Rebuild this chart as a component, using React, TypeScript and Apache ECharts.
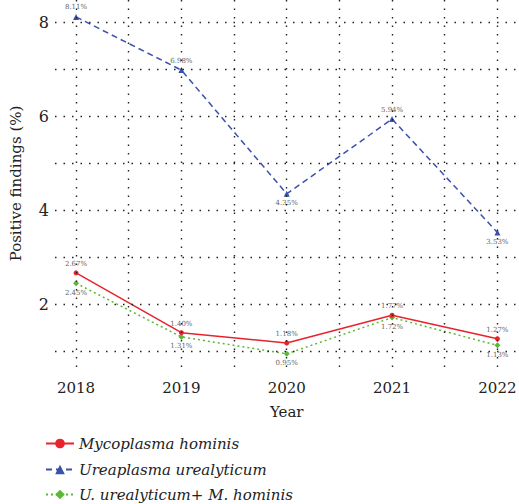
import React, { useEffect, useRef } from "react";
import * as echarts from "echarts";

const years = [2018, 2019, 2020, 2021, 2022];
const mHominis = [2.67, 1.4, 1.18, 1.77, 1.27];
const uUrealyticum = [8.11, 6.98, 4.35, 5.94, 3.53];
const combined = [2.45, 1.31, 0.95, 1.72, 1.13];
const yTickLabels = [2, 4, 6, 8];
const yGrid = [1, 2, 3, 4, 5, 6, 7, 8];
const xGrid = [2018, 2018.5, 2019, 2019.5, 2020, 2020.5, 2021, 2021.5, 2022];
const seriesNames = ["Mycoplasma hominis", "Ureaplasma urealyticum", "U. urealyticum+ M. hominis"];
const bluePos = ["top", "top", "bottom", "top", "bottom"];

const FONT = "DejaVu Serif";

export default function App() {
  const ref = useRef<HTMLDivElement>(null);
  useEffect(() => {
    if (!ref.current) return;
    const chart = echarts.init(ref.current, null, { renderer: "svg" });
    const lbl = (pos: string) => ({
      show: true,
      position: pos,
      distance: 3,
      fontSize: 7,
      color: "#666",
      fontFamily: FONT,
      formatter: (p: any) => p.value[1].toFixed(2) + "%",
    });
    const legendTops = [431, 457, 482];
    chart.setOption({
      animation: false,
      backgroundColor: "#fff",
      textStyle: { fontFamily: FONT },
      grid: { left: 44, right: 0, top: 0, height: 367, containLabel: false },
      xAxis: {
        type: "value",
        min: 2017.8,
        max: 2022.2,
        name: "Year",
        nameLocation: "middle",
        nameGap: 37,
        nameTextStyle: { fontSize: 15, color: "#222", fontFamily: FONT },
        axisLine: { show: false },
        axisTick: { show: false },
        splitLine: { show: false },
        axisLabel: {
          customValues: years,
          formatter: (v: number) => String(v),
          fontSize: 15,
          color: "#222",
          fontFamily: FONT,
          margin: 13,
        },
      },
      yAxis: {
        type: "value",
        min: 0.67,
        max: 8.47,
        name: "Positive findings (%)",
        nameLocation: "middle",
        nameRotate: 90,
        nameGap: 32,
        nameTextStyle: { fontSize: 15, color: "#222", fontFamily: FONT },
        axisLine: { show: false },
        axisTick: { show: false },
        splitLine: { show: false },
        axisLabel: {
          customValues: yTickLabels,
          fontSize: 16,
          color: "#222",
          fontFamily: FONT,
          margin: 6,
        },
      },
      legend: seriesNames.map((n, i) => ({
        orient: "vertical",
        left: 40,
        top: legendTops[i],
        itemWidth: 28,
        itemHeight: 12,
        data: [n],
        textStyle: { fontSize: 15, fontStyle: "italic", color: "#222", fontFamily: FONT },
      })),
      series: [
        {
          type: "line",
          name: "grid",
          data: [],
          silent: true,
          markLine: {
            silent: true,
            symbol: ["none", "none"],
            label: { show: false },
            lineStyle: { type: [1.5, 7], color: "#222", width: 1.4 },
            data: [
              ...yGrid.map((v) => ({ yAxis: v })),
              ...xGrid.map((v) => ({ xAxis: v })),
            ],
          },
        },
        {
          type: "line",
          name: seriesNames[0],
          data: years.map((y, i) => [y, mHominis[i]]),
          symbol: "circle",
          symbolSize: 5,
          color: "#e8232b",
          lineStyle: { width: 1.5, type: "solid" },
          label: lbl("top"),
          z: 4,
        },
        {
          type: "line",
          name: seriesNames[1],
          data: years.map((y, i) => ({
            value: [y, uUrealyticum[i]],
            label: { position: bluePos[i] },
          })),
          symbol: "triangle",
          symbolSize: 6,
          color: "#3a50ad",
          lineStyle: { width: 1.5, type: [6, 4] },
          label: lbl("top"),
          z: 3,
        },
        {
          type: "line",
          name: seriesNames[2],
          data: years.map((y, i) => [y, combined[i]]),
          symbol: "diamond",
          symbolSize: 6,
          color: "#5bb934",
          lineStyle: { width: 1.5, type: [2, 3] },
          label: lbl("bottom"),
          z: 3,
        },
      ],
    });
    return () => chart.dispose();
  }, []);
  return (
    <div
      ref={ref}
      style={{ position: "absolute", left: 0, top: 0, width: 519, height: 504 }}
    />
  );
}
